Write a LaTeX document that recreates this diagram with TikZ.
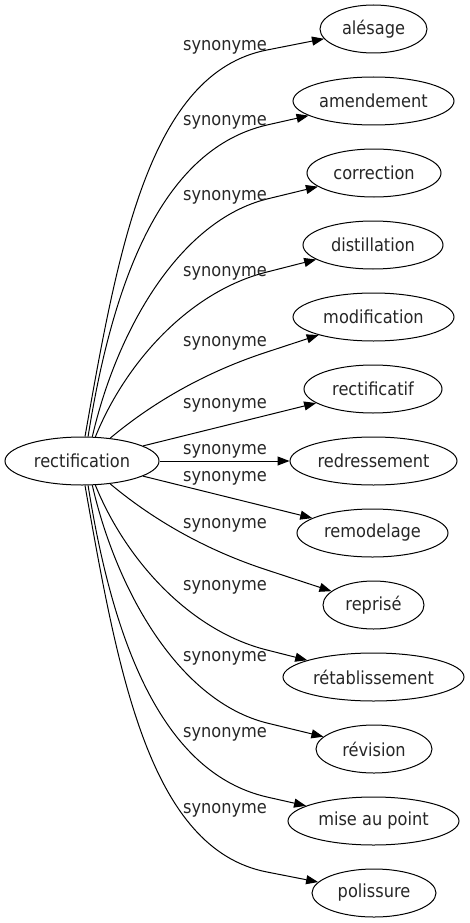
\documentclass[tikz,border=0pt]{standalone}
\usepackage{fontspec}
\setmainfont{DejaVu Sans Condensed}
\usetikzlibrary{shapes.geometric,arrows.meta}
\begin{document}
\begin{tikzpicture}[x=1pt,y=1pt,
  every node/.style={font=\fontsize{18}{21}\selectfont, text=black!85},
  term/.style={draw=black, line width=1pt, ellipse, inner sep=0pt, minimum height=48pt},
  lbl/.style={inner sep=0pt},
  syn/.style={draw=black, line width=1pt, -{Triangle[length=12pt,width=9pt]}}]
\useasboundingbox (0,0) rectangle (469,-923);
\node[term, minimum width=154pt] (root) at (82,-461) {rectification};
\node[term, minimum width=107pt] (t1) at (373.5,-29) {alésage};
\node[term, minimum width=161pt] (t2) at (373.5,-101) {amendement};
\node[term, minimum width=134pt] (t3) at (374,-173) {correction};
\node[term, minimum width=140pt] (t4) at (373,-245) {distillation};
\node[term, minimum width=161pt] (t5) at (373.5,-317) {modification};
\node[term, minimum width=138pt] (t6) at (373,-389) {rectificatif};
\node[term, minimum width=167pt] (t7) at (373.5,-461) {redressement};
\node[term, minimum width=151pt] (t8) at (372.5,-533) {remodelage};
\node[term, minimum width=101pt] (t9) at (373.5,-605) {reprisé};
\node[term, minimum width=181pt] (t10) at (373.5,-677) {rétablissement};
\node[term, minimum width=116pt] (t11) at (374,-749) {révision};
\node[term, minimum width=171pt] (t12) at (373.5,-821) {mise au point};
\node[term, minimum width=124pt] (t13) at (374,-893) {polissure};
% waypoints
\coordinate (w1) at (267,-50);
\coordinate (w2) at (267,-125);
\coordinate (w3) at (267,-199);
\coordinate (w4) at (267,-272);
\coordinate (w5) at (267,-352);
\coordinate (w9) at (267,-570);
\coordinate (w10) at (267,-650);
\coordinate (w11) at (267,-723);
\coordinate (w12) at (267,-797);
\coordinate (w13) at (267,-872);
% edges
\draw[syn] (root.83) .. controls +(80:190) and +(191:120) .. (w1) -- (t1);
\draw[syn] (root.76) .. controls +(81:165) and +(193:105) .. (w2) -- (t2);
\draw[syn] (root.67) .. controls +(77:110) and +(194:90) .. (w3) -- (t3);
\draw[syn] (root.61) .. controls +(68:80) and +(194:80) .. (w4) -- (t4);
\draw[syn] (root.39) .. controls +(40:60) and +(198:60) .. (w5) -- (t5);
\draw[syn] (root) -- (t6);
\draw[syn] (root) -- (t7);
\draw[syn] (root) -- (t8);
\draw[syn] (root.-39) .. controls +(-40:60) and +(162:60) .. (w9) -- (t9);
\draw[syn] (root.-61) .. controls +(-68:80) and +(166:80) .. (w10) -- (t10);
\draw[syn] (root.-67) .. controls +(-77:110) and +(166:90) .. (w11) -- (t11);
\draw[syn] (root.-76) .. controls +(-81:165) and +(167:105) .. (w12) -- (t12);
\draw[syn] (root.-83) .. controls +(-80:190) and +(169:120) .. (w13) -- (t13);
% labels
\node[lbl] (l1) at (225,-47) {synonyme};
\node[lbl] (l2) at (225,-122) {synonyme};
\node[lbl] (l3) at (225,-197) {synonyme};
\node[lbl] (l4) at (225,-273) {synonyme};
\node[lbl] (l5) at (225,-343) {synonyme};
\node[lbl] (l6) at (225,-405) {synonyme};
\node[lbl] (l7) at (225,-451) {synonyme};
\node[lbl] (l8) at (225,-478) {synonyme};
\node[lbl] (l9) at (225,-525) {synonyme};
\node[lbl] (l10) at (225,-587) {synonyme};
\node[lbl] (l11) at (225,-658) {synonyme};
\node[lbl] (l12) at (225,-734) {synonyme};
\node[lbl] (l13) at (225,-810) {synonyme};
\end{tikzpicture}
\end{document}
